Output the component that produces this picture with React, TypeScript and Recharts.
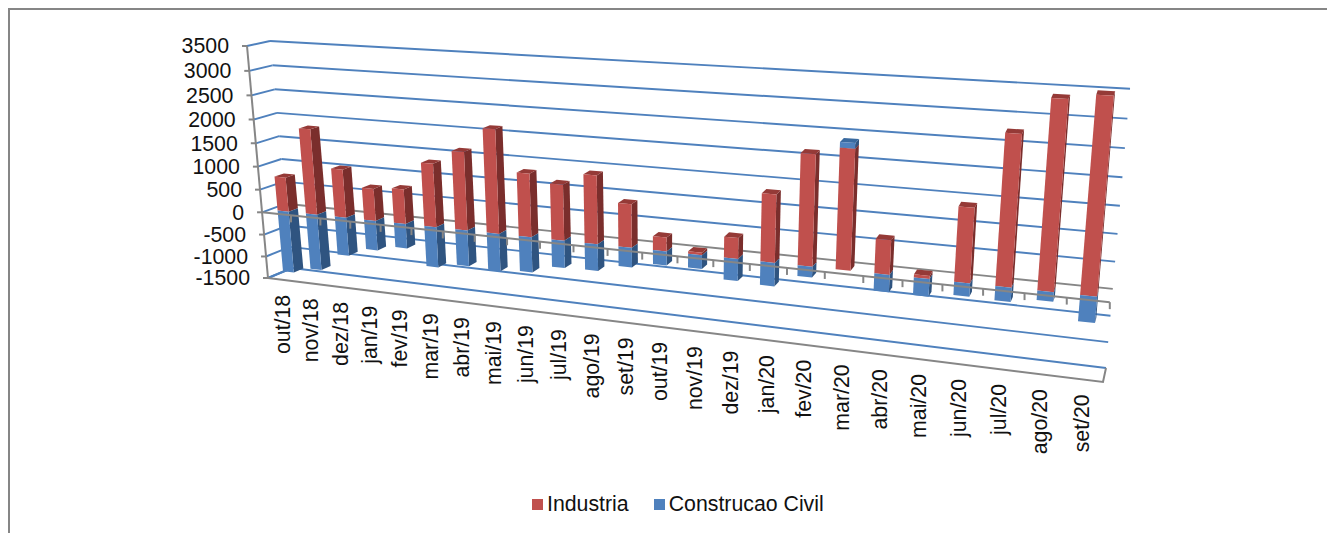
import { BarChart, Bar, XAxis, YAxis, CartesianGrid, Legend, ReferenceLine } from "recharts";

const months = ['out/18', 'nov/18', 'dez/18', 'jan/19', 'fev/19', 'mar/19', 'abr/19', 'mai/19', 'jun/19', 'jul/19', 'ago/19', 'set/19', 'out/19', 'nov/19', 'dez/19', 'jan/20', 'fev/20', 'mar/20', 'abr/20', 'mai/20', 'jun/20', 'jul/20', 'ago/20', 'set/20'];
const industria = [750, 1835, 1040, 690, 740, 1335, 1630, 2135, 1305, 1145, 1390, 880, 280, 50, 415, 1325, 2135, 2290, 660, 60, 1400, 2760, 3400, 3500];
const construcao = [-1386, -1250, -845, -650, -530, -875, -770, -800, -745, -575, -555, -405, -285, -280, -445, -470, -210, 100, -335, -340, -255, -270, -180, -490];
const yTicks = [-1500, -1000, -500, 0, 500, 1000, 1500, 2000, 2500, 3000, 3500];

const data = months.map((month, i) => ({ month, industria: industria[i], construcao: construcao[i] }));

// plot box handed to recharts, project() bends it into the 3d look of the original
const L = 300, T = 40, W = 800, H = 400;
const LEGEND_H = 24;
const BACK = { tl: [270, 41], tr: [1130, 88.7], bl: [292, 268], br: [1106, 368] };
const FRONT = { tl: [247, 46], tr: [1127, 100], bl: [268, 278], br: [1103, 382] };
const BAR_FRONT = 0.3, BAR_BACK = 0.7;
const WARP = 1.23, BAR_WARP = 1.254;

const GRAY = '#868686';
const BLUE = '#4F81BD';
const FONT = '"Liberation Sans", Arial, sans-serif';
const FONT_SIZE = 21.3;

function corner(c: any, u: number, t: number) {
  const top = [c.tl[0] + (c.tr[0] - c.tl[0]) * u, c.tl[1] + (c.tr[1] - c.tl[1]) * u];
  const bot = [c.bl[0] + (c.br[0] - c.bl[0]) * u, c.bl[1] + (c.br[1] - c.bl[1]) * u];
  return [top[0] + (bot[0] - top[0]) * t, top[1] + (bot[1] - top[1]) * t];
}

function project(px: number, py: number, d: number, warp = WARP) {
  const a = (px - L) / W;
  const u = a / (a + warp * (1 - a));
  const b = (py - T) / H;
  const t = b + 0.08 * b * (1 - b);
  const f = corner(FRONT, u, t), k = corner(BACK, u, t);
  return [f[0] + (k[0] - f[0]) * d, f[1] + (k[1] - f[1]) * d];
}

const pts = (list: number[][]) => list.map(p => p.map(n => n.toFixed(1)).join(',')).join(' ');

function GridLine({ y1 }: any) {
  const isZero = Math.abs(y1 - (T + H * 0.7)) < 1;
  const a = project(L, y1, 0), b = project(L, y1, 1), c = project(L + W, y1, 1);
  return (
    <g fill="none" strokeWidth={1.9}>
      <polyline points={pts([a, b])} stroke={BLUE} />
      <polyline points={pts([b, c])} stroke={isZero ? GRAY : BLUE} />
    </g>
  );
}

function Floor() {
  const fl = project(L, T + H, 0), fr = project(L + W, T + H, 0), bl = project(L, T + H, 1), br = project(L + W, T + H, 1);
  const axisTop = project(L, T, 0);
  return (
    <g fill="none">
      <polyline points={pts([fl, bl])} stroke={BLUE} strokeWidth={1.9} />
      <polyline points={pts([fl, fr, br])} stroke={GRAY} strokeWidth={2} />
      <polyline points={pts([axisTop, fl])} stroke={GRAY} strokeWidth={2} />
    </g>
  );
}

function ZeroAxis({ y1 }: any) {
  const a = project(L, y1, 0), b = project(L + W, y1, 0);
  return (
    <g stroke={GRAY} strokeWidth={2} fill="none">
      <line x1={a[0]} y1={a[1]} x2={b[0]} y2={b[1]} />
      {months.map((_, i) => {
        const p = project(L + (W * (i + 1)) / months.length, y1, 0);
        return <line key={i} x1={p[0]} y1={p[1]} x2={p[0]} y2={p[1] + 7} />;
      })}
    </g>
  );
}

function Bar3D({ x, y, width, height, fill, side, lid, payload, dataKey }: any) {
  const top = Math.min(y, y + height), bottom = Math.max(y, y + height);
  const right = x + width;
  const at = (px: number, py: number, d: number) => project(px, py, d, BAR_WARP);
  const front = [at(x, top, BAR_FRONT), at(right, top, BAR_FRONT), at(right, bottom, BAR_FRONT), at(x, bottom, BAR_FRONT)];
  const sideFace = [at(right, top, BAR_FRONT), at(right, top, BAR_BACK), at(right, bottom, BAR_BACK), at(right, bottom, BAR_FRONT)];
  const lidFace = [at(x, top, BAR_FRONT), at(x, top, BAR_BACK), at(right, top, BAR_BACK), at(right, top, BAR_FRONT)];
  return (
    <g>
      <polygon points={pts(sideFace)} fill={side} />
      {payload[dataKey] > 0 && <polygon points={pts(lidFace)} fill={lid} />}
      <polygon points={pts(front)} fill={fill} />
    </g>
  );
}

function MonthTick({ x, payload }: any) {
  const p = project(x, T + H, 0);
  const ty = p[1] + 15;
  return (
    <text x={p[0]} y={ty} transform={`rotate(-90 ${p[0]} ${ty})`} textAnchor="end" dy="0.35em" fontSize={FONT_SIZE} fontFamily={FONT} fill="#111">
      {payload.value}
    </text>
  );
}

function ValueTick({ y, payload }: any) {
  const p = project(L, y, 0);
  return (
    <g>
      <line x1={p[0] - 5} y1={p[1]} x2={p[0]} y2={p[1]} stroke={GRAY} strokeWidth={2} />
      <text x={p[0] - 18} y={p[1]} textAnchor="end" dy="0.35em" fontSize={FONT_SIZE} fontFamily={FONT} fill="#111">
        {payload.value}
      </text>
    </g>
  );
}

function LegendRow({ payload }: any) {
  return (
    <div style={{ display: 'flex', fontFamily: FONT, fontSize: FONT_SIZE, color: '#111', lineHeight: `${LEGEND_H}px` }}>
      {(payload || []).map((e: any) => (
        <div key={e.value} style={{ display: 'flex', alignItems: 'center', marginRight: 25 }}>
          <span style={{ width: 11, height: 11, background: e.color, marginRight: 4 }} />
          <span>{e.value}</span>
        </div>
      ))}
    </div>
  );
}

export default function App() {
  return (
    <div style={{ position: 'absolute', left: 0, top: 0, width: 1327, height: 533, overflow: 'hidden', background: '#fff' }}>
      <div style={{ position: 'absolute', left: 8, top: 8, width: 1400, height: 600, borderTop: `2px solid ${GRAY}`, borderLeft: `2px solid ${GRAY}` }} />
      <div style={{ position: 'absolute', left: 0, top: 0 }}>
        <BarChart
          width={1327}
          height={533}
          data={data}
          stackOffset="sign"
          barCategoryGap="30%"
          margin={{ left: 240, top: T, right: 1327 - L - W, bottom: 533 - T - H - 30 - LEGEND_H }}
        >
          <CartesianGrid vertical={false} horizontal={(props: any) => <GridLine key={props.key ?? props.y1} {...props} />} />
          <ReferenceLine y={-1500} shape={() => <Floor />} />
          <XAxis dataKey="month" height={30} interval={0} axisLine={false} tickLine={false} tick={MonthTick} />
          <YAxis width={60} type="number" domain={[-1500, 3500]} ticks={yTicks} interval={0} axisLine={false} tickLine={false} tick={ValueTick} />
          <Bar
            dataKey="industria"
            name="Industria"
            stackId="a"
            fill="#C0504D"
            isAnimationActive={false}
            shape={(p: any) => <Bar3D {...p} dataKey="industria" side="#7A2E2C" lid="#953A37" />}
          />
          <Bar
            dataKey="construcao"
            name="Construcao Civil"
            stackId="a"
            fill={BLUE}
            isAnimationActive={false}
            shape={(p: any) => <Bar3D {...p} dataKey="construcao" side="#2F5480" lid="#3A6A9F" />}
          />
          <ReferenceLine y={0} shape={(p: any) => <ZeroAxis {...p} />} />
          <Legend itemSorter={null as any} content={(p: any) => <LegendRow {...p} />} wrapperStyle={{ left: 532, top: 492, width: 340, bottom: 'auto' }} />
        </BarChart>
      </div>
    </div>
  );
}
